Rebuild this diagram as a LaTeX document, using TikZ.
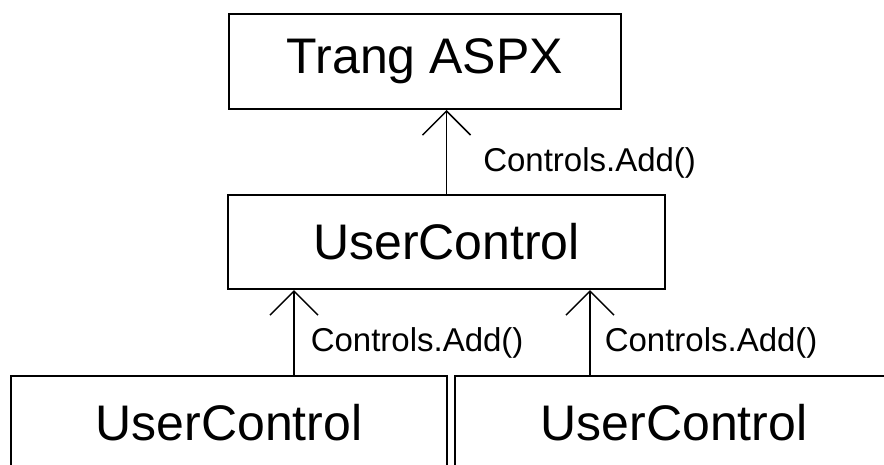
\documentclass[tikz,border=0pt]{standalone}
\usepackage{fontspec}
\setmainfont{Liberation Sans}
\usetikzlibrary{arrows.meta}

\tikzset{
  ctlbox/.style={draw, line width=2pt, inner sep=0pt, font=\fontsize{50}{60}\selectfont},
  addarrow/.style={line width=1.5pt, -{Straight Barb[length=24pt,width=48pt,line width=1.5pt]}},
  addlbl/.style={font=\fontsize{33}{40}\selectfont, inner sep=0pt, anchor=west}
}

\begin{document}
\begin{tikzpicture}[x=1pt, y=-1pt]
    \useasboundingbox (0,0) rectangle (884,464);
    \clip (0,0) rectangle (884,464);
    % Boxes
    \node[ctlbox, minimum width=392pt, minimum height=95pt] (aspx) at (425,61.5) {Trang ASPX};
    \node[ctlbox, minimum width=437pt, minimum height=94pt] (uc) at (446.5,242) {UserControl};
    \node[ctlbox, minimum width=436pt, minimum height=94pt] (ucleft) at (229,423) {UserControl};
    \node[ctlbox, minimum width=438pt, minimum height=94pt] (ucright) at (674,423) {UserControl};
    % Arrow start points
    \coordinate (a1) at (294,376);
    \coordinate (a2) at (590,376);
    % Controls.Add() arrows
    \draw[addarrow] (uc.north) -- node[addlbl, pos=0.37, xshift=36pt] {Controls.Add()} (uc.north |- aspx.south);
    \draw[addarrow] (a1) -- node[addlbl, pos=0.38, xshift=16pt] {Controls.Add()} (a1 |- uc.south);
    \draw[addarrow] (a2) -- node[addlbl, pos=0.38, xshift=14pt] {Controls.Add()} (a2 |- uc.south);
\end{tikzpicture}
\end{document}
